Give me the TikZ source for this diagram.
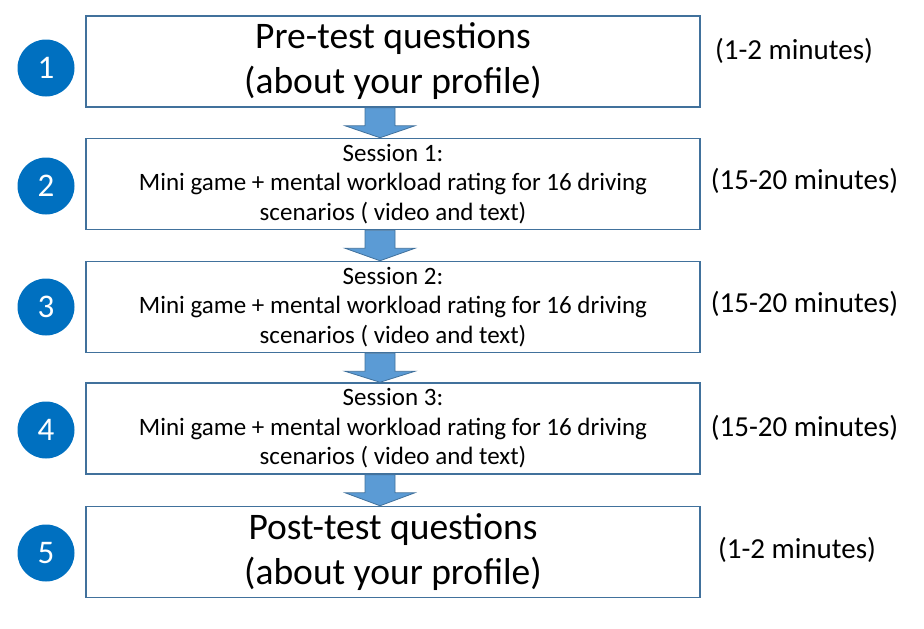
\documentclass[tikz,border=0pt]{standalone}
\usepackage{fontspec}
\setmainfont{Carlito}
\usetikzlibrary{positioning,calc}

\definecolor{stepblue}{HTML}{0070C0}
\definecolor{arrowfill}{HTML}{5B9BD5}
\definecolor{edgeblue}{HTML}{41719C}

\tikzset{
  stepbox/.style={draw=edgeblue,line width=1.5pt,minimum width=614pt,minimum height=91pt,align=center,inner sep=0pt},
  bigtext/.style={font=\fontsize{37.5}{45}\selectfont},
  smalltext/.style={font=\fontsize{25}{29.5}\selectfont},
  stepnum/.style={circle,fill=stepblue,minimum size=57pt,inner sep=0pt,text=white,font=\fontsize{33}{36}\selectfont},
  timetext/.style={font=\fontsize{29}{34}\selectfont},
  blockarrow/.style={fill=arrowfill,draw=edgeblue,line width=0.8pt,line join=miter}
}

% block arrow, a bit left of the box centre
\newcommand{\downarrowbetween}[2]{%
  \draw[blockarrow] ($(#1.south)+(-28,0)$) -- ($(#1.south)+(-28,18)$) -- ($(#1.south)+(-48,18)$)
    -- ($(#2.north)+(-13,0)$) -- ($(#1.south)+(22,18)$) -- ($(#1.south)+(2,18)$) -- ($(#1.south)+(2,0)$) -- cycle;}

\begin{document}
\begin{tikzpicture}[x=1pt,y=-1pt]
  \useasboundingbox (0,0) rectangle (924,629);

  % boxes
  \node[stepbox,bigtext] (pre) at (393,61.5) {Pre-test questions\\(about your profile)};
  \node[stepbox,smalltext] (s1) at (393,184) {Session 1:\\Mini game + mental workload rating for 16 driving\\scenarios ( video and text)};
  \node[stepbox,smalltext] (s2) at (393,307) {Session 2:\\Mini game + mental workload rating for 16 driving\\scenarios ( video and text)};
  \node[stepbox,smalltext] (s3) at (393,428.5) {Session 3:\\Mini game + mental workload rating for 16 driving\\scenarios ( video and text)};
  \node[stepbox,bigtext] (post) at (393,552) {Post-test questions\\(about your profile)};

  % numbers
  \node[stepnum] (n1) at (46,68) {1};
  \node[stepnum] (n2) at (46,186) {2};
  \node[stepnum] (n3) at (46,307) {3};
  \node[stepnum] (n4) at (46,430) {4};
  \node[stepnum] (n5) at (46,553) {5};

  % durations
  \node[timetext] (t1) at (794,51) {(1-2 minutes)};
  \node[timetext] (t2) at (804.5,181) {(15-20 minutes)};
  \node[timetext] (t3) at (804.5,304) {(15-20 minutes)};
  \node[timetext] (t4) at (804.5,428) {(15-20 minutes)};
  \node[timetext] (t5) at (797,550) {(1-2 minutes)};

  % arrows
  \downarrowbetween{pre}{s1}
  \downarrowbetween{s1}{s2}
  \downarrowbetween{s2}{s3}
  \downarrowbetween{s3}{post}
\end{tikzpicture}
\end{document}
